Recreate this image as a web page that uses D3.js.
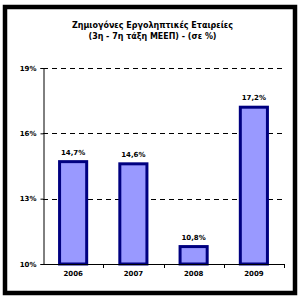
<!DOCTYPE html>
<html>
<head>
<meta charset="utf-8">
<script src="https://cdn.jsdelivr.net/npm/d3@7"></script>
<style>
	body { margin: 0; background: #fff; }
	svg { display: block; }
	text { font-family: "DejaVu Sans", Verdana, sans-serif; font-weight: bold; fill: #000; }
</style>
</head>
<body>
<svg width="301" height="299"></svg>
<script>
var years = ['2006', '2007', '2008', '2009'];
var values = [14.7, 14.6, 10.8, 17.2];
var labels = ['14,7%', '14,6%', '10,8%', '17,2%'];
var yTicks = [10, 13, 16, 19];
var titleLines = ['Ζημιογόνες Εργοληπτικές Εταιρείες', '(3η - 7η τάξη ΜΕΕΠ) - (σε %)'];
var titleWidths = [161, 128];

var svg = d3.select('svg');
var margins = {T: 68, B: 35, L: 43, R: 17};
var W = 301, H = 299;

// outer frame
svg.append('rect')
	.attr('x', 5).attr('y', 7)
	.attr('width', 290).attr('height', 286)
	.attr('fill', 'none')
	.attr('stroke', '#000')
	.attr('stroke-width', 4.5);

svg.selectAll('.title')
	.data(titleLines)
	.enter().append('text')
		.attr('class', 'title')
		.attr('x', 152.5)
		.attr('y', function(d, i) { return 28 + i * 11; })
		.attr('text-anchor', 'middle')
		.attr('textLength', function(d, i) { return titleWidths[i]; })
		.attr('lengthAdjust', 'spacingAndGlyphs')
		.style('font-size', '9px')
		.text(function(d) { return d; });

var x = d3.scaleBand()
	.domain(years)
	.range([margins.L, W - margins.R])
	.paddingInner(0.55)
	.paddingOuter(0.275);

var xAxisScale = d3.scaleBand().domain(years).range([margins.L, W - margins.R]);

var y = d3.scaleLinear()
	.domain([10, 19])
	.range([H - margins.B, margins.T]);

// gridlines
svg.append('g')
	.selectAll('line')
	.data(yTicks.slice(1))
	.enter().append('line')
		.attr('x1', margins.L).attr('x2', W - margins.R)
		.attr('y1', function(d) { return Math.round(y(d)) + 0.5; })
		.attr('y2', function(d) { return Math.round(y(d)) + 0.5; })
		.attr('stroke', '#000')
		.attr('stroke-width', 1)
		.attr('stroke-dasharray', '5,4');

// bars
svg.append('g')
	.selectAll('rect')
	.data(values)
	.enter().append('rect')
		.attr('x', function(d, i) { return x(years[i]); })
		.attr('y', function(d) { return y(d); })
		.attr('width', x.bandwidth())
		.attr('height', function(d) { return y(10) - y(d); })
		.attr('fill', '#9999ff')
		.attr('stroke', '#000080')
		.attr('stroke-width', 3);

svg.append('g')
	.selectAll('text')
	.data(values)
	.enter().append('text')
		.attr('x', function(d, i) { return x(years[i]) + x.bandwidth() / 2; })
		.attr('y', function(d) { return y(d) - 7; })
		.attr('text-anchor', 'middle')
		.style('font-size', '7px')
		.text(function(d, i) { return labels[i]; });

// axes
var yAxis = d3.axisLeft(y).tickValues(yTicks).tickSize(3).tickPadding(4)
	.tickFormat(function(d) { return d + '%'; });
svg.append('g')
	.attr('transform', 'translate(' + (margins.L + 0.5) + ',0)')
	.call(yAxis)
	.call(function(g) {
		g.select('.domain').attr('stroke', '#000');
		g.selectAll('text').style('font-size', '7px').style('font-family', '"DejaVu Sans", sans-serif');
	});

var xAxis = d3.axisBottom(xAxisScale).tickSize(0).tickPadding(7);
svg.append('g')
	.attr('transform', 'translate(0,' + (Math.round(y(10)) + 0.5) + ')')
	.call(xAxis)
	.call(function(g) {
		g.select('.domain').remove();
		g.selectAll('text').style('font-size', '7px').style('font-family', '"DejaVu Sans", sans-serif');
	});

// x axis line with ticks between categories
var xEdges = years.map(function(d) { return xAxisScale(d); }).concat([W - margins.R]);
var ax = svg.append('g');
ax.append('line')
	.attr('x1', margins.L).attr('x2', W - margins.R)
	.attr('y1', Math.round(y(10)) + 0.5).attr('y2', Math.round(y(10)) + 0.5)
	.attr('stroke', '#000');
ax.selectAll('.xt')
	.data(xEdges.slice(1))
	.enter().append('line')
		.attr('x1', function(d) { return Math.round(d) + 0.5; })
		.attr('x2', function(d) { return Math.round(d) + 0.5; })
		.attr('y1', Math.round(y(10))).attr('y2', Math.round(y(10)) + 4)
		.attr('stroke', '#000');
</script>
</body>
</html>
